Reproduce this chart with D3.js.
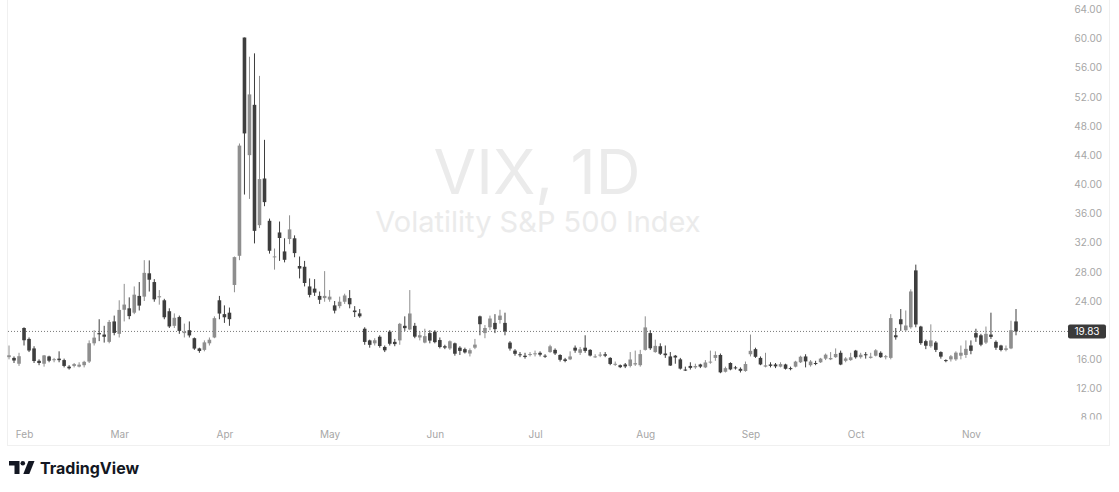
<!DOCTYPE html>
<html lang="en">
<head>
<meta charset="utf-8">
<title>VIX, 1D</title>
<style>
  body { margin: 0; background: #fff; }
  svg { display: block; }
  .axis text { font-family: Inter, "Noto Sans", sans-serif; font-size: 10px; fill: #a6a6a6; }
  .axis path { display: none; }
  .wm { font-family: Inter, "Noto Sans", sans-serif; fill: #ebebeb; text-anchor: middle; }
  .logo-text { font-family: Inter, "Noto Sans", sans-serif; font-weight: 700; font-size: 16px; fill: #131722; }
</style>
</head>
<body>
<svg width="1119" height="492"></svg>
<script src="https://cdn.jsdelivr.net/npm/d3@7"></script>
<script>

// trading days shown on the chart
var dates = [
  "2025-01-29","2025-01-30","2025-01-31",
  "2025-02-03","2025-02-04","2025-02-05","2025-02-06","2025-02-07","2025-02-10","2025-02-11","2025-02-12","2025-02-13","2025-02-14",
  "2025-02-18","2025-02-19","2025-02-20","2025-02-21","2025-02-24","2025-02-25","2025-02-26","2025-02-27","2025-02-28",
  "2025-03-03","2025-03-04","2025-03-05","2025-03-06","2025-03-07","2025-03-10","2025-03-11","2025-03-12","2025-03-13","2025-03-14",
  "2025-03-17","2025-03-18","2025-03-19","2025-03-20","2025-03-21","2025-03-24","2025-03-25","2025-03-26","2025-03-27","2025-03-28","2025-03-31",
  "2025-04-01","2025-04-02","2025-04-03","2025-04-04","2025-04-07","2025-04-08","2025-04-09","2025-04-10","2025-04-11","2025-04-14",
  "2025-04-15","2025-04-16","2025-04-17","2025-04-21","2025-04-22","2025-04-23","2025-04-24","2025-04-25","2025-04-28","2025-04-29","2025-04-30",
  "2025-05-01","2025-05-02","2025-05-05","2025-05-06","2025-05-07","2025-05-08","2025-05-09","2025-05-12","2025-05-13","2025-05-14",
  "2025-05-15","2025-05-16","2025-05-19","2025-05-20","2025-05-21","2025-05-22","2025-05-23","2025-05-27","2025-05-28","2025-05-29","2025-05-30",
  "2025-06-02","2025-06-03","2025-06-04","2025-06-05","2025-06-06","2025-06-09","2025-06-10","2025-06-11","2025-06-12","2025-06-13",
  "2025-06-16","2025-06-17","2025-06-18","2025-06-20","2025-06-23","2025-06-24","2025-06-25","2025-06-26","2025-06-27","2025-06-30",
  "2025-07-01","2025-07-02","2025-07-03","2025-07-07","2025-07-08","2025-07-09","2025-07-10","2025-07-11","2025-07-14","2025-07-15","2025-07-16",
  "2025-07-17","2025-07-18","2025-07-21","2025-07-22","2025-07-23","2025-07-24","2025-07-25","2025-07-28","2025-07-29","2025-07-30","2025-07-31",
  "2025-08-01","2025-08-04","2025-08-05","2025-08-06","2025-08-07","2025-08-08","2025-08-11","2025-08-12","2025-08-13","2025-08-14","2025-08-15",
  "2025-08-18","2025-08-19","2025-08-20","2025-08-21","2025-08-22","2025-08-25","2025-08-26","2025-08-27","2025-08-28","2025-08-29",
  "2025-09-02","2025-09-03","2025-09-04","2025-09-05","2025-09-08","2025-09-09","2025-09-10","2025-09-11","2025-09-12","2025-09-15","2025-09-16",
  "2025-09-17","2025-09-18","2025-09-19","2025-09-22","2025-09-23","2025-09-24","2025-09-25","2025-09-26","2025-09-29","2025-09-30",
  "2025-10-01","2025-10-02","2025-10-03","2025-10-06","2025-10-07","2025-10-08","2025-10-09","2025-10-10","2025-10-13","2025-10-14","2025-10-15","2025-10-16",
  "2025-10-17","2025-10-20","2025-10-21","2025-10-22","2025-10-23","2025-10-24","2025-10-27","2025-10-28","2025-10-29","2025-10-30","2025-10-31",
  "2025-11-03","2025-11-04","2025-11-05","2025-11-06","2025-11-07","2025-11-10","2025-11-11","2025-11-12","2025-11-13","2025-11-14"
];

// one line per month: Jan, Feb, Mar ... Nov
var opens = [
  16.3, 16.2, 15.4,
  20.3, 18.8, 17.5, 15.8, 15.4, 16.4, 15.9, 16.1, 15.9, 15.0, 15.1, 15.0, 15.2, 15.7, 18.2, 19.6, 19.4, 18.4, 21.2,
  19.5, 22.8, 23.0, 22.4, 24.7, 24.6, 27.8, 26.6, 24.5, 24.1, 22.6, 20.6, 21.8, 19.6, 20.0, 18.9, 17.5, 17.3, 18.2, 19.0, 24.1,
  22.2, 22.4, 26.2, 30.2, 60.13, 44.0, 50.9, 34.4, 40.8, 35.0, 30.0, 33.4, 30.8, 32.5, 32.6, 28.8, 28.7, 26.0, 25.7, 24.7, 24.4,
  24.2, 23.4, 23.3, 23.9, 24.4, 22.7, 22.3, 20.2, 18.6, 18.2, 19.1, 17.7, 19.8, 18.4, 18.6, 20.6, 20.1, 20.6, 19.0, 18.3, 19.6,
  19.8, 18.65, 17.8, 17.5, 18.2, 17.6, 17.4, 16.8, 17.6, 21.9, 19.6, 20.4, 21.0, 21.4, 21.0, 18.3, 17.2, 16.7, 16.5, 16.6,
  16.7, 16.9, 16.5, 17.0, 17.3, 16.6, 16.0, 16.0, 17.6, 16.9, 17.6, 17.3, 16.4, 16.6, 16.7, 16.2, 15.3, 15.2, 15.3, 15.1, 15.3, 15.2,
  17.3, 19.6, 17.0, 17.8, 16.8, 16.4, 16.5, 16.0, 14.6, 15.1, 14.9, 15.3, 14.9, 15.6, 16.2, 16.6, 14.3, 15.5, 14.9, 14.7, 14.4,
  16.7, 17.4, 16.2, 15.0, 15.3, 15.3, 15.0, 15.3, 14.8, 15.0, 15.6, 16.4, 15.2, 15.5, 15.6, 16.1, 16.0, 16.3, 16.9, 15.8, 15.9,
  17.2, 16.3, 16.7, 16.2, 16.5, 16.9, 16.3, 16.2, 19.3, 21.5, 20.0, 20.4, 28.2, 20.5, 18.5, 17.8, 18.3, 17.0, 15.9, 16.0, 16.0, 16.5, 16.6,
  17.9, 19.6, 19.3, 18.3, 19.4, 18.4, 17.9, 17.3, 17.5, 21.2
];
var highs = [
  17.9, 16.4, 16.9,
  20.4, 19.0, 17.8, 16.0, 16.6, 16.5, 16.2, 17.1, 16.1, 15.2, 15.5, 15.6, 15.8, 18.6, 20.0, 21.5, 20.6, 21.4, 22.0,
  24.1, 26.35, 24.5, 26.0, 26.6, 29.6, 29.57, 27.0, 25.5, 24.3, 23.0, 22.3, 22.0, 20.9, 21.2, 19.0, 17.6, 18.6, 19.0, 21.9, 24.7,
  23.4, 23.1, 30.1, 45.6, 60.13, 57.5, 57.96, 54.87, 46.1, 35.3, 31.2, 34.9, 32.6, 35.75, 33.0, 30.1, 29.5, 27.1, 27.0, 25.3, 28.1,
  25.5, 24.0, 24.6, 25.0, 25.5, 23.3, 22.9, 20.4, 18.7, 18.9, 19.3, 17.9, 20.0, 18.8, 21.0, 21.9, 25.5, 21.0, 19.8, 20.2, 20.0,
  20.0, 19.0, 18.0, 18.6, 18.3, 17.8, 17.6, 17.5, 18.8, 22.0, 20.7, 22.0, 22.2, 22.8, 22.4, 18.5, 17.4, 17.0, 16.9, 17.0,
  17.2, 17.1, 16.7, 18.0, 17.5, 16.7, 16.2, 17.1, 17.9, 17.7, 19.3, 17.4, 16.7, 17.0, 17.0, 16.3, 15.7, 15.3, 15.5, 17.0, 17.2, 17.3,
  21.9, 20.0, 18.7, 18.2, 17.9, 17.0, 16.6, 16.2, 15.0, 15.6, 15.4, 15.4, 15.9, 17.2, 17.1, 16.8, 15.0, 15.6, 15.1, 14.9, 15.7,
  19.4, 17.6, 16.4, 16.9, 15.6, 15.5, 15.6, 15.4, 15.0, 15.8, 16.5, 16.7, 15.9, 15.8, 16.2, 16.8, 17.0, 17.5, 17.2, 16.3, 16.9,
  17.3, 16.9, 17.0, 16.9, 17.4, 17.1, 16.6, 22.2, 20.3, 22.9, 22.7, 25.6, 28.99, 20.6, 18.7, 20.8, 18.5, 17.1, 16.0, 16.6, 17.1, 17.9, 18.6,
  18.6, 20.2, 19.5, 20.5, 22.4, 18.6, 18.0, 17.9, 21.3, 22.9
];
var lows = [
  16.0, 15.5, 15.1,
  17.9, 17.0, 15.5, 15.2, 15.0, 15.6, 15.6, 15.6, 14.9, 14.6, 14.9, 14.9, 14.9, 15.5, 17.9, 18.5, 18.3, 18.2, 19.3,
  19.0, 21.2, 21.5, 22.2, 22.7, 24.0, 25.3, 23.9, 23.5, 21.5, 20.3, 20.3, 19.5, 19.0, 19.0, 17.3, 16.9, 17.1, 17.9, 18.9, 21.5,
  21.0, 20.6, 25.2, 29.6, 38.6, 38.0, 31.9, 34.0, 37.0, 30.5, 28.3, 29.5, 29.3, 31.8, 30.0, 27.1, 26.0, 24.5, 24.7, 23.6, 23.9,
  23.9, 22.3, 23.0, 23.6, 23.0, 21.8, 21.7, 18.0, 17.6, 17.9, 17.6, 17.0, 17.9, 17.8, 18.0, 19.9, 20.0, 18.9, 18.6, 18.2, 18.2,
  18.2, 17.5, 17.4, 17.3, 16.5, 16.6, 16.8, 16.4, 17.4, 19.3, 18.9, 20.0, 19.6, 20.9, 19.3, 17.2, 16.5, 16.3, 16.1, 16.4,
  16.4, 16.4, 16.2, 16.9, 16.6, 15.7, 15.6, 15.9, 16.9, 16.6, 16.9, 16.4, 16.2, 16.3, 16.3, 15.2, 15.1, 14.8, 14.8, 14.9, 15.1, 15.0,
  17.2, 17.3, 16.9, 16.6, 16.2, 15.1, 15.4, 14.6, 14.4, 14.6, 14.7, 14.8, 14.8, 15.4, 15.8, 14.1, 14.2, 14.5, 14.6, 14.2, 14.3,
  16.4, 16.2, 15.2, 14.9, 14.9, 14.8, 14.9, 14.6, 14.5, 14.9, 15.5, 14.9, 15.0, 15.2, 15.5, 15.9, 15.9, 16.2, 15.2, 15.6, 15.8,
  16.1, 16.1, 16.1, 16.1, 16.4, 16.2, 16.0, 16.0, 18.7, 19.9, 19.8, 20.2, 20.4, 18.0, 17.4, 17.6, 17.0, 16.1, 15.6, 15.7, 15.8, 16.0, 16.2,
  16.7, 18.4, 17.8, 18.1, 18.8, 17.3, 17.1, 17.1, 17.4, 19.3
];
var closes = [
  16.56, 15.84, 16.43,
  18.62, 17.21, 15.77, 15.50, 16.54, 15.81, 16.02, 15.89, 15.10, 14.77, 15.35, 15.27, 15.66, 18.21, 18.98, 19.43, 19.10, 21.13, 19.63,
  22.78, 23.51, 21.93, 24.87, 23.37, 27.86, 26.92, 24.23, 24.66, 21.77, 20.51, 21.70, 19.90, 19.80, 19.28, 17.48, 17.15, 18.33, 18.69, 21.65, 22.28,
  21.77, 21.51, 30.02, 45.31, 46.98, 52.33, 33.62, 40.72, 37.56, 30.89, 30.12, 32.64, 29.65, 33.82, 30.57, 28.45, 26.47, 24.84, 25.15, 24.17, 24.70,
  24.60, 22.68, 23.90, 24.76, 23.55, 22.48, 21.90, 18.39, 17.99, 18.62, 17.83, 17.24, 18.14, 18.09, 20.87, 20.28, 22.29, 19.11, 19.31, 19.18, 18.57,
  18.36, 17.69, 17.61, 18.48, 16.77, 17.16, 16.95, 17.26, 18.02, 20.82, 20.30, 21.60, 20.14, 22.00, 19.83, 17.48, 16.76, 16.59, 16.32, 16.73,
  16.83, 16.64, 16.38, 17.79, 16.81, 15.94, 15.78, 16.40, 17.20, 17.38, 17.16, 16.52, 16.41, 16.65, 16.50, 15.37, 15.39, 14.93, 15.03, 15.98, 15.48, 16.72,
  20.38, 17.52, 17.85, 16.77, 16.57, 15.15, 16.25, 14.73, 14.49, 14.83, 15.09, 15.00, 15.57, 15.69, 16.60, 14.22, 14.79, 14.62, 14.85, 14.43, 15.36,
  17.17, 16.35, 15.30, 15.18, 15.11, 15.04, 15.35, 14.71, 14.76, 15.69, 16.36, 15.72, 15.70, 15.45, 16.10, 16.64, 16.18, 16.74, 15.29, 16.12, 16.28,
  16.29, 16.63, 16.65, 16.37, 17.24, 16.30, 16.43, 21.66, 19.03, 20.81, 20.64, 25.31, 20.78, 18.23, 17.87, 18.60, 17.30, 16.37, 15.79, 16.42, 16.92, 16.91, 17.44,
  17.17, 19.00, 18.01, 19.50, 19.08, 17.60, 17.28, 17.51, 20.00, 19.83
];

// time axis labels: first trading day of each month
var monthStarts = ["2025-02-03","2025-03-03","2025-04-01","2025-05-01","2025-06-02","2025-07-01","2025-08-01","2025-09-02","2025-10-01","2025-11-03"];
var monthNames  = ["Feb","Mar","Apr","May","Jun","Jul","Aug","Sep","Oct","Nov"];
// 20.00 sits under the last price label, so the chart hides it
var priceTicks  = [8, 12, 16, 24, 28, 32, 36, 40, 44, 48, 52, 56, 60, 64];
var lastClose = 19.83;

var upColor = "#8e8e8e",
    downColor = "#3e3e3e";

var svg = d3.select("svg");

var xScale = d3.scalePoint()
               .domain(dates)
               .range([9, 1016]);

var yScale = d3.scaleLinear()
               .domain([8, 64])
               .range([417.7, 9.3]);

var candles = dates.map(function(d, i) {
    return {date: d, o: opens[i], h: highs[i], l: lows[i], c: closes[i]};
});

// frame
svg.append("rect")
   .attr("x", 7.5).attr("y", -1)
   .attr("width", 1102).attr("height", 446.5)
   .attr("fill", "none")
   .attr("stroke", "#f0f0f0");

// watermark
svg.append("text")
   .attr("class", "wm")
   .attr("x", 537).attr("y", 194)
   .style("font-size", "62px")
   .text("VIX, 1D");

svg.append("text")
   .attr("class", "wm")
   .attr("x", 538).attr("y", 232)
   .style("font-size", "29px")
   .text("Volatility S&P 500 Index");

// last price line
svg.append("line")
   .attr("x1", 8).attr("x2", 1068)
   .attr("y1", yScale(lastClose)).attr("y2", yScale(lastClose))
   .attr("stroke", "#7a7a7a")
   .attr("stroke-width", 1)
   .attr("stroke-dasharray", "1 2");

// candles
var g = svg.append("g").attr("class", "candles");

g.selectAll("line.wick")
 .data(candles)
 .enter()
 .append("line")
 .attr("class", "wick")
 .attr("x1", function(d) { return xScale(d.date); })
 .attr("x2", function(d) { return xScale(d.date); })
 .attr("y1", function(d) { return yScale(d.h); })
 .attr("y2", function(d) { return yScale(d.l); })
 .attr("stroke", function(d) { return d.c >= d.o ? upColor : downColor; })
 .attr("stroke-width", 1);

g.selectAll("rect.body")
 .data(candles)
 .enter()
 .append("rect")
 .attr("class", "body")
 .attr("x", function(d) { return xScale(d.date) - 1.8; })
 .attr("width", 3.6)
 .attr("y", function(d) { return yScale(Math.max(d.o, d.c)); })
 .attr("height", function(d) { return Math.max(1, Math.abs(yScale(d.o) - yScale(d.c))); })
 .attr("fill", function(d) { return d.c >= d.o ? upColor : downColor; });

// price axis (clip is in the axis group's own coordinates; cuts the 8.00 label like the pane edge does)
svg.append("clipPath").attr("id", "paneClip")
   .append("rect").attr("x", -62).attr("y", 0).attr("width", 80).attr("height", 419.5);

var yAxis = d3.axisLeft(yScale)
              .tickValues(priceTicks)
              .tickFormat(d3.format(".2f"))
              .tickSize(0)
              .tickPadding(0);

svg.append("g")
   .attr("class", "axis yAxis")
   .attr("transform", "translate(1102,0)")
   .attr("clip-path", "url(#paneClip)")
   .call(yAxis);

// time axis
var xAxis = d3.axisBottom(xScale)
              .tickValues(monthStarts)
              .tickFormat(function(d) { return monthNames[monthStarts.indexOf(d)]; })
              .tickSize(0)
              .tickPadding(0);

svg.append("g")
   .attr("class", "axis xAxis")
   .attr("transform", "translate(0,431)")
   .call(xAxis);

// last price label
var ly = yScale(lastClose);
svg.append("rect")
   .attr("x", 1068).attr("y", ly - 7)
   .attr("width", 38).attr("height", 14)
   .attr("rx", 2)
   .attr("fill", "#3a3a3a");

svg.append("text")
   .attr("x", 1087).attr("y", ly)
   .attr("dy", "0.35em")
   .attr("text-anchor", "middle")
   .style("font-family", "Inter, 'Noto Sans', sans-serif")
   .style("font-size", "10px")
   .attr("fill", "#fff")
   .text(d3.format(".2f")(lastClose));

// TradingView logo
var logo = svg.append("g").attr("transform", "translate(9,461)").attr("fill", "#131722");
logo.append("path").attr("d", "M0 0 H10.5 V13 H5.5 V4.5 H0 Z");
logo.append("circle").attr("cx", 13.8).attr("cy", 2.3).attr("r", 2.3);
logo.append("path").attr("d", "M19.5 0 H25.5 L20.3 13 H14.3 Z");

svg.append("text")
   .attr("class", "logo-text")
   .attr("x", 40).attr("y", 473.5)
   .text("TradingView");

</script>
</body>
</html>
